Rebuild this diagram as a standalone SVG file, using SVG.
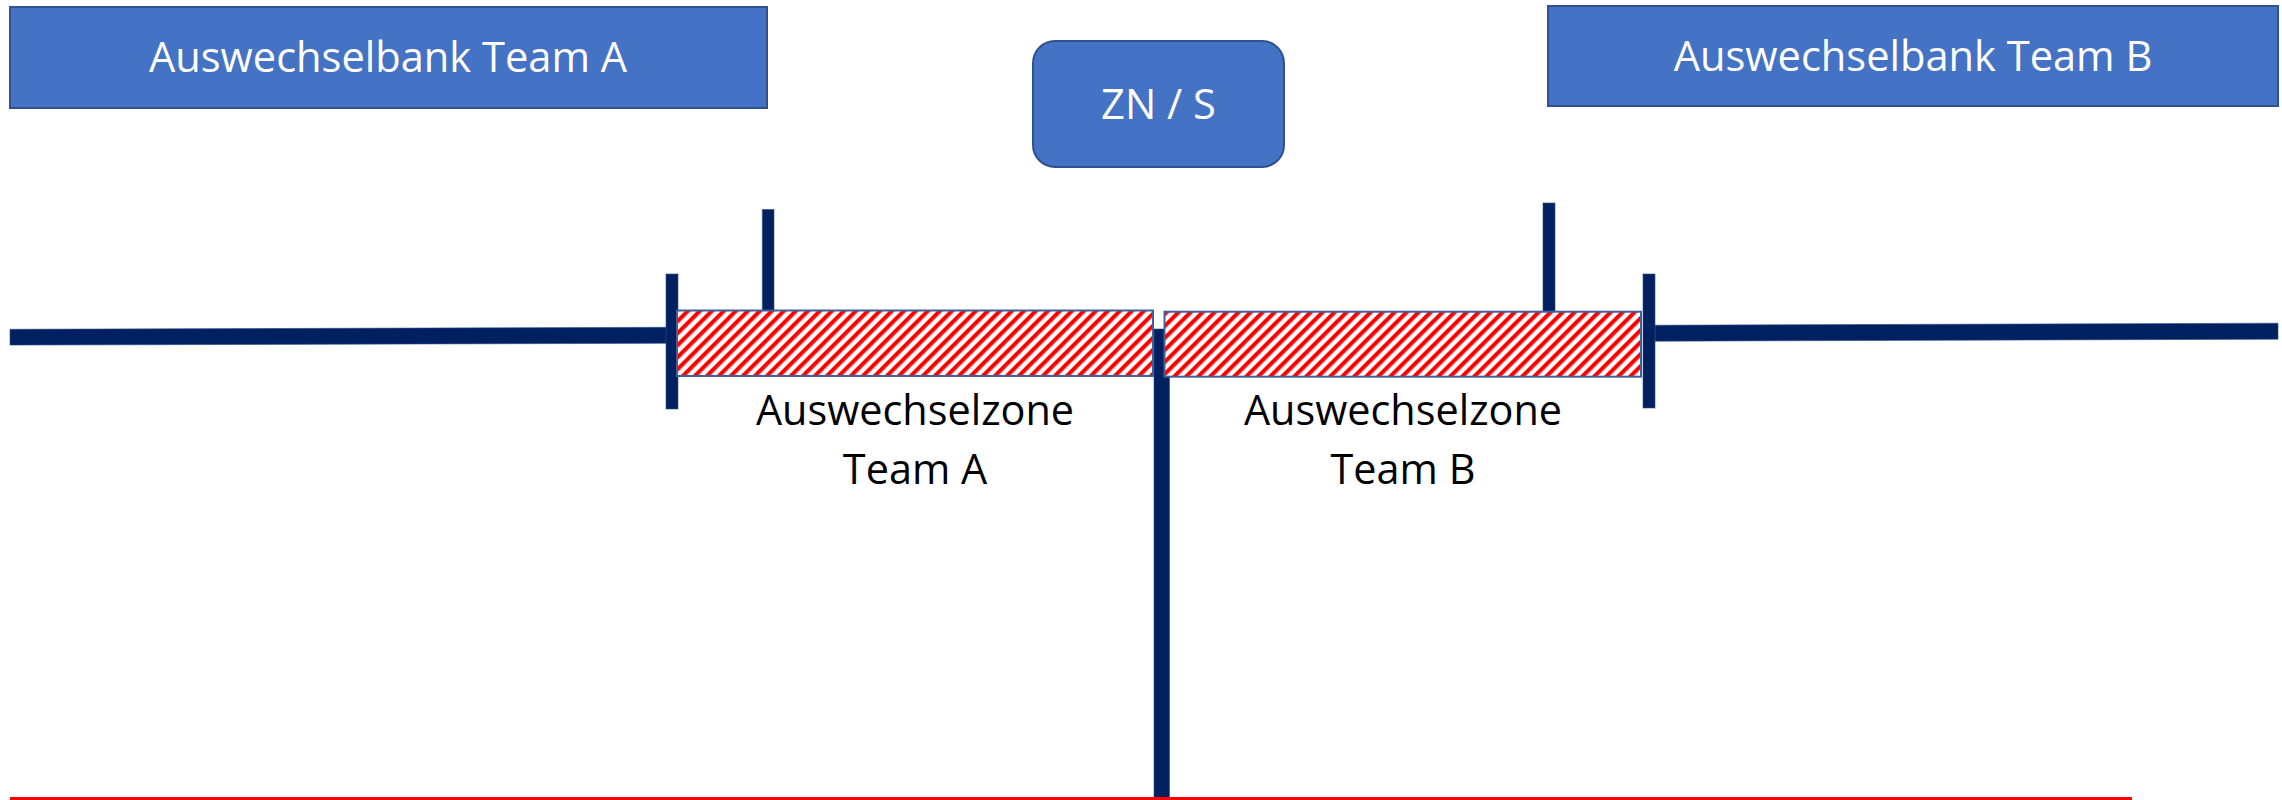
<svg xmlns="http://www.w3.org/2000/svg" width="2282" height="800" viewBox="0 0 2282 800">
  <style>
    .bench { fill: #4472C4; stroke: #2F528F; stroke-width: 2; }
    .boxtext { font-family: "Open Sans", "Liberation Sans", sans-serif; font-size: 41.6px; fill: #FFFFFF; text-anchor: middle; }
    .label { font-family: "Open Sans", "Liberation Sans", sans-serif; font-size: 41.4px; fill: #000000; text-anchor: middle; }
    .navy { fill: #002060; stroke: #2F4F85; stroke-width: 1; stroke-opacity: 0.6; }
    .zone { fill: url(#hatch); stroke: #41609A; stroke-width: 2; }
  </style>
  <defs>
    <pattern id="hatch" patternUnits="userSpaceOnUse" width="8.485" height="10" patternTransform="rotate(45)">
      <rect x="0" y="0" width="8.485" height="10" fill="#FFFFFF"/>
      <rect x="0" y="0" width="4.1" height="10" fill="#FF0000"/>
    </pattern>
  </defs>
  <rect width="2282" height="800" fill="#FFFFFF"/>

  <g id="bench-a">
    <rect class="bench" x="10" y="7" width="757" height="101"/>
    <text class="boxtext" x="388" y="72">Auswechselbank Team A</text>
  </g>

  <g id="bench-b">
    <rect class="bench" x="1548" y="6" width="730" height="100"/>
    <text class="boxtext" x="1913" y="71">Auswechselbank Team B</text>
  </g>

  <g id="officials">
    <rect class="bench" x="1033" y="41" width="251" height="126" rx="22" ry="22"/>
    <text class="boxtext" x="1158.5" y="119">ZN / S</text>
  </g>

  <g id="field-lines">
    <polygon class="navy" points="10,329.3 667,327.3 667,343.3 10,345.1"/>
    <polygon class="navy" points="1655,325.2 2278,323.2 2278,339.2 1655,341.2"/>
    <rect class="navy" x="1154" y="329" width="15.5" height="471"/>
    <rect class="navy" x="666" y="274" width="12" height="135"/>
    <rect class="navy" x="1643" y="274" width="12" height="134"/>
    <rect class="navy" x="762.3" y="209.5" width="11.7" height="101"/>
    <rect class="navy" x="1543" y="203" width="12" height="109"/>
    <rect x="10" y="797" width="2122" height="3" fill="#FF0000"/>
  </g>

  <g id="zone-a">
    <rect class="zone" x="677" y="310.5" width="476" height="65.5"/>
    <text class="label" x="915" y="425">Auswechselzone</text>
    <text class="label" x="915" y="484">Team A</text>
  </g>

  <g id="zone-b">
    <rect class="zone" x="1164.5" y="311.7" width="476.5" height="65"/>
    <text class="label" x="1403" y="425">Auswechselzone</text>
    <text class="label" x="1403" y="484">Team B</text>
  </g>
</svg>
